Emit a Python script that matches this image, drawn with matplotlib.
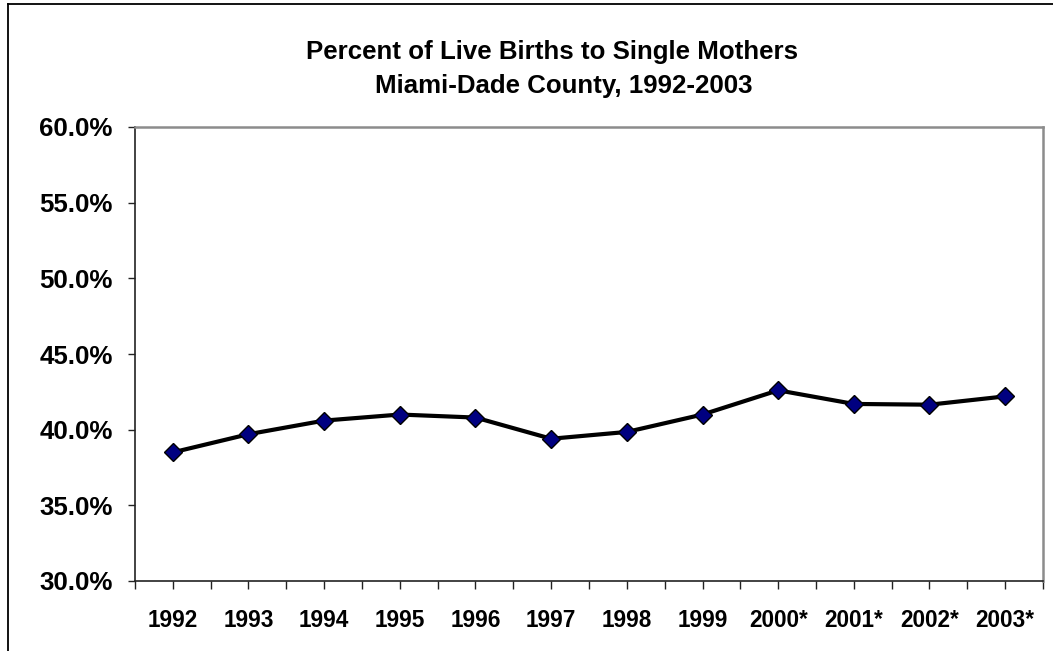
import numpy as np
import matplotlib
matplotlib.use("Agg")
import matplotlib.pyplot as plt
from matplotlib.lines import Line2D
from matplotlib.ticker import FuncFormatter

years = ["1992", "1993", "1994", "1995", "1996", "1997", "1998", "1999",
         "2000*", "2001*", "2002*", "2003*"]
pct = [38.5, 39.7, 40.6, 41.0, 40.8, 39.4, 39.85, 41.0, 42.6, 41.7, 41.65, 42.2]
yticks = [30, 35, 40, 45, 50, 55, 60]
title1 = "Percent of Live Births to Single Mothers"
title2 = "Miami-Dade County, 1992-2003"

plt.rcParams['font.family'] = ['Liberation Sans', 'DejaVu Sans']
W, H = 1053, 651
fig = plt.figure(figsize=(W / 100, H / 100), dpi=100)
ax = fig.add_axes([135 / W, 1 - 581 / H, (1043 - 135) / W, (581 - 127) / H])

x = np.arange(len(years))
ax.plot(x, pct, color='black', lw=3, marker='D', ms=9.5, mfc='#000080',
        mec='black', mew=1, zorder=3, clip_on=False)

ax.set_xlim(-0.5, len(years) - 0.5)
ax.set_ylim(30, 60)
ax.set_yticks(yticks)
ax.yaxis.set_major_formatter(FuncFormatter(lambda v, p: f"{v:.1f}%"))

# ticks at every half category; labels only at category centres
tpos = np.arange(-0.5, len(years) - 0.4, 0.5)
ax.set_xticks(tpos)
labels = []
for t in tpos:
    if abs(t - round(t)) < 1e-6:
        labels.append(years[int(round(t))])
    else:
        labels.append("")
ax.set_xticklabels(labels)

ax.tick_params(axis='x', direction='out', length=6, width=1, color='#222222',
               labelsize=16.3, pad=14)
ax.tick_params(axis='y', direction='out', length=5, width=1, color='#222222',
               labelsize=18.6, pad=11)
for lab in ax.get_xticklabels() + ax.get_yticklabels():
    lab.set_fontweight('bold')

for s in ['left', 'bottom']:
    ax.spines[s].set_color('#222222')
    ax.spines[s].set_linewidth(1.2)
for s in ['top', 'right']:
    ax.spines[s].set_color('#8c8c8c')
    ax.spines[s].set_linewidth(1.8)

fig.text(552 / W, 1 - 52 / H, title1, ha='center', va='center',
         fontsize=18.6, fontweight='bold')
fig.text(564 / W, 1 - 86 / H, title2, ha='center', va='center',
         fontsize=18.6, fontweight='bold')

# outer chart border (left and top visible)
fig.add_artist(Line2D([7.5 / W, 7.5 / W], [0, 1 - 3.5 / H], transform=fig.transFigure,
                      color='black', lw=1.3))
fig.add_artist(Line2D([7.5 / W, 1], [1 - 3.5 / H, 1 - 3.5 / H], transform=fig.transFigure,
                      color='black', lw=1.3))

fig.savefig("out.png", dpi=100)
